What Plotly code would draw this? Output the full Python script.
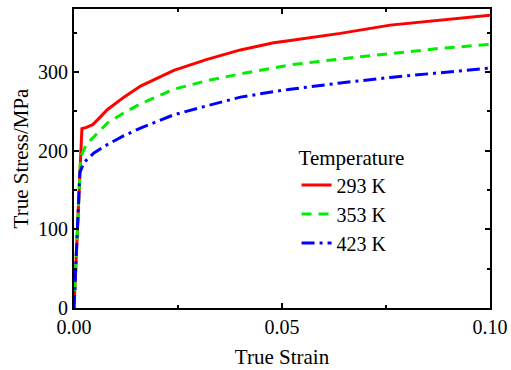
import plotly.graph_objects as go

strain_293 = [0, 0.0019, 0.0030, 0.0045, 0.006, 0.008, 0.012, 0.016, 0.024, 0.032, 0.040, 0.048, 0.052, 0.064, 0.076, 0.088, 0.100]
stress_293 = [0, 228, 229.5, 233, 241, 252, 268, 282, 302, 316, 328, 337, 340, 349, 359.5, 366, 372]

strain_353 = [0, 0.0016, 0.0030, 0.0048, 0.008, 0.012, 0.016, 0.024, 0.032, 0.040, 0.048, 0.052, 0.064, 0.076, 0.088, 0.100]
stress_353 = [0, 192, 208, 218, 235, 248, 259.5, 278, 289, 297.5, 305.5, 309, 316.5, 323.6, 330, 335]

strain_423 = [0, 0.0014, 0.0024, 0.0048, 0.008, 0.012, 0.016, 0.024, 0.032, 0.040, 0.048, 0.052, 0.064, 0.076, 0.088, 0.100]
stress_423 = [0, 172, 185, 197, 207.6, 219, 228.7, 245.6, 257, 268, 275, 278, 286, 293, 299, 305]

series = [
    ("293 K", strain_293, stress_293, "#ff0000", "solid"),
    ("353 K", strain_353, stress_353, "#00ee00", "10px,7px"),
    ("423 K", strain_423, stress_423, "#0000ff", "13px,5px,3px,5px"),
]

FONT = "Liberation Serif"

fig = go.Figure()
for i, (name, x, y, color, dash) in enumerate(series):
    fig.add_trace(go.Scatter(
        x=x, y=y, mode="lines", name=name, legendgroup=f"g{i}",
        line=dict(color=color, width=3, dash=dash),
    ))

axis_common = dict(
    showline=True, linecolor="black", linewidth=2, mirror="ticks",
    ticks="inside", ticklen=5, tickwidth=1.5, tickcolor="black",
    showgrid=False, zeroline=False, automargin=False,
    tickfont=dict(family=FONT, size=20, color="black"),
    title_font=dict(family=FONT, size=21, color="black"),
)

fig.update_xaxes(
    range=[0, 0.10], tickvals=[0, 0.05, 0.10], ticktext=["0.00", "0.05", "0.10"],
    minor=dict(tickvals=[0.025, 0.075], ticks="inside", ticklen=3, tickcolor="black", tickwidth=1.5),
    title_text="True Strain", title_standoff=12,
    **axis_common,
)
fig.update_yaxes(
    range=[0, 380], tickvals=[0, 100, 200, 300],
    minor=dict(tickvals=[50, 150, 250, 350], ticks="inside", ticklen=3, tickcolor="black", tickwidth=1.5),
    title_text="True Stress/MPa", title_standoff=4,
    **axis_common,
)

fig.update_layout(
    width=511, height=370,
    margin=dict(l=74, r=21, t=9, b=62),
    paper_bgcolor="white", plot_bgcolor="white",
    font=dict(family=FONT, size=20, color="black"),
    legend=dict(
        title=dict(text="Temperature", font=dict(family=FONT, size=21)),
        x=0.535, y=0.568, xanchor="left", yanchor="top",
        bgcolor="rgba(0,0,0,0)", tracegroupgap=0,
        font=dict(family=FONT, size=20),
    ),
)

fig.write_html("out.html", config={"displayModeBar": False},
               post_script="document.body.style.margin='0';")
